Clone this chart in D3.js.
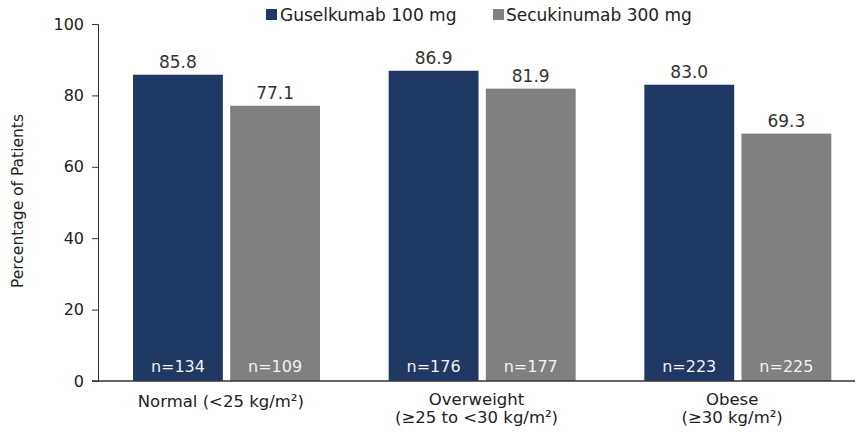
<!DOCTYPE html>
<html><head><meta charset="utf-8">
<script src="https://cdn.jsdelivr.net/npm/d3@7"></script>
<style>body{margin:0;background:#fff}svg{display:block}text{font-family:"DejaVu Sans",Verdana,sans-serif}</style>
</head><body><svg id="c" width="856" height="434"></svg>
<script>
const categories = [["Normal (<25 kg/m²)"], ["Overweight", "(≥25 to <30 kg/m²)"], ["Obese", "(≥30 kg/m²)"]];
const seriesNames = ["Guselkumab 100 mg", "Secukinumab 300 mg"];
const guselkumab = [85.8, 86.9, 83.0];
const secukinumab = [77.1, 81.9, 69.3];
const nGus = [134, 176, 223];
const nSec = [109, 177, 225];
const yTicks = [0, 20, 40, 60, 80, 100];
const colors = ["#1f3864", "#808080"];

const svg = d3.select("#c");
const x0 = d3.scaleBand().domain([0,1,2]).range([98, 865]).paddingInner(0).paddingOuter(0);
const x1 = d3.scaleBand().domain([0,1]).range([35, 222]).paddingInner(0.075);
const y = d3.scaleLinear().domain([0,100]).range([381, 24]);

// axis
const yAxis = d3.axisLeft(y).tickValues(yTicks).tickSize(6).tickPadding(8);
const gy = svg.append("g").attr("transform","translate(98,0)").call(yAxis);
gy.select(".domain").attr("stroke","#333");
gy.selectAll(".tick line").attr("stroke","#333");
gy.selectAll(".tick text").attr("font-size",16).attr("fill","#222").attr("font-family","DejaVu Sans, Verdana, sans-serif");

const series = [guselkumab, secukinumab];
const ns = [nGus, nSec];
categories.forEach((c,i)=>{
  const g = svg.append("g").attr("transform",`translate(${x0(i)},0)`);
  series.forEach((s,j)=>{
    const bx = x1(j), bw = x1.bandwidth();
    g.append("rect").attr("x",bx).attr("y",y(s[i])).attr("width",bw).attr("height",y(0)-y(s[i])).attr("fill",colors[j]);
    g.append("text").attr("x",bx+bw/2).attr("y",y(s[i])-7).attr("text-anchor","middle").attr("font-size",17).attr("fill","#333").text(s[i].toFixed(1));
    g.append("text").attr("x",bx+bw/2).attr("y",372).attr("text-anchor","middle").attr("font-size",16).attr("fill","#f2f2f2").text("n="+ns[j][i]);
  });
  const t = g.append("text").attr("text-anchor","middle").attr("font-size",16.5).attr("fill","#222");
  c.forEach((line,k)=>{
    t.append("tspan").attr("x",x0.bandwidth()/2 - 5).attr("y",(c.length===1?407:405)+k*18).text(line);
  });
});
// baseline
svg.append("line").attr("x1",92).attr("x2",855).attr("y1",y(0)).attr("y2",y(0)).attr("stroke","#333").attr("stroke-width",1.5);

// y label
svg.append("text").attr("transform","translate(23,201) rotate(-90)").attr("text-anchor","middle").attr("font-size",15.5).attr("fill","#222").text("Percentage of Patients");

// legend
const leg = [[266,280],[493,506]];
seriesNames.forEach((n,j)=>{
  svg.append("rect").attr("x",leg[j][0]).attr("y",9).attr("width",11).attr("height",11).attr("fill",colors[j]);
  svg.append("text").attr("x",leg[j][1]).attr("y",21).attr("font-size",17).attr("fill","#222").text(n);
});
</script></body></html>
